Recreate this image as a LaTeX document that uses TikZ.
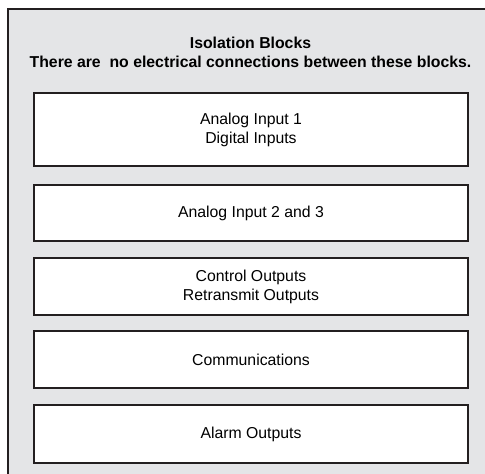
\documentclass[tikz,border=0pt]{standalone}
\usepackage{fontspec}
\setmainfont{Liberation Sans}
\definecolor{panel}{HTML}{E4E5E7}
\definecolor{edge}{HTML}{231F20}
\begin{document}
\begin{tikzpicture}[x=1pt,y=-1pt,
  block/.style={draw=edge,line width=2.6pt,fill=white,minimum width=434pt,align=center,font=\fontsize{15.8}{19}\selectfont,inner sep=0pt}]
\useasboundingbox (0,0) rectangle (485,474);
\fill[white] (0,0) rectangle (485,474);
\draw[draw=edge,line width=2.4pt,fill=panel] (8,9) rectangle (500,490);
\node[font=\bfseries\fontsize{15.8}{19}\selectfont,align=center] (title) at (250.5,52.5) {Isolation Blocks\\There are\ \ no electrical connections between these blocks.};
\node[block,minimum height=73pt] (b1) at (251,129.5) {Analog Input 1\\Digital Inputs};
\node[block,minimum height=56pt] (b2) at (251,213) {Analog Input 2 and 3};
\node[block,minimum height=57pt] (b3) at (251,286.5) {Control Outputs\\Retransmit Outputs};
\node[block,minimum height=57pt] (b4) at (251,359.5) {Communications};
\node[block,minimum height=58pt] (b5) at (251,434) {Alarm Outputs};
\end{tikzpicture}
\end{document}
